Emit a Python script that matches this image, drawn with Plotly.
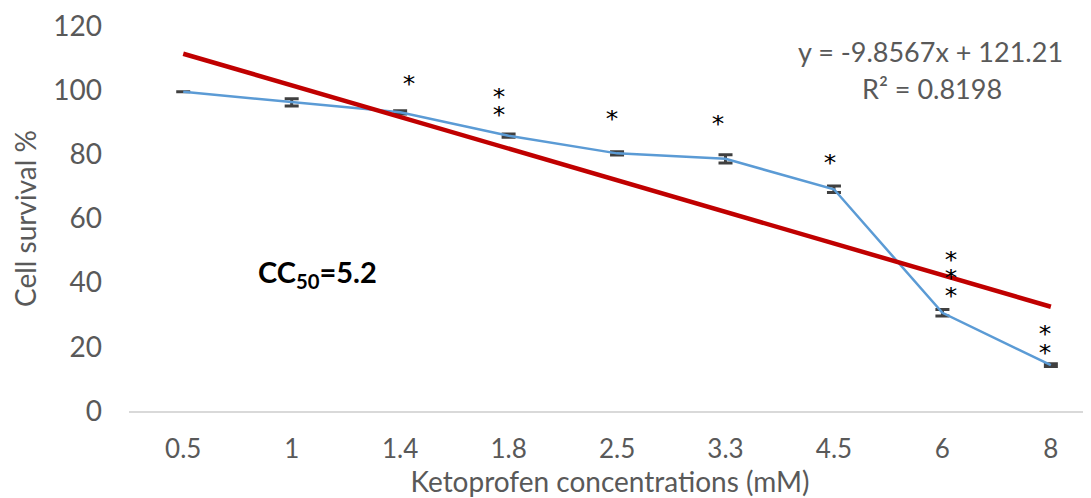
import plotly.graph_objects as go

# ---- data ----
concentrations = ["0.5", "1", "1.4", "1.8", "2.5", "3.3", "4.5", "6", "8"]
survival = [99.5, 96.2, 93.1, 85.8, 80.3, 78.6, 69.1, 30.6, 14.3]
survival_err = [0.0, 1.1, 0.5, 0.5, 0.5, 1.3, 1.0, 1.0, 0.4]
slope = -9.8567
intercept = 121.21
r_squared = 0.8198
stars = ["", "", "*", "**", "*", "*", "*", "***", "**"]
cc50 = 5.2

# trend values from the fitted equation (x = category index 1..n)
trend = [slope * (i + 1) + intercept for i in range(len(concentrations))]

FONT = "Lato, 'Open Sans', sans-serif"
GREY = "#595959"

# page has an 8px body margin: size the figure so it fills the window
W, H = 1083, 490
L, R, T, B = 121, 0, 18, 87
PW, PH = W - L - R, H - T - B


def px(x):  # window pixel -> paper x
    return (x - 8 - L) / PW


def py(y):  # window pixel -> paper y
    return (H - B + 8 - y) / PH


fig = go.Figure()

fig.add_trace(go.Scatter(
    x=concentrations, y=survival, mode="lines",
    line=dict(color="#5b9bd5", width=2.5),
    error_y=dict(type="data", array=survival_err, visible=True,
                 color="#404040", thickness=3, width=7),
    showlegend=False, hoverinfo="x+y"))

fig.add_trace(go.Scatter(
    x=concentrations, y=trend, mode="lines",
    line=dict(color="#c00000", width=4.5),
    showlegend=False, hoverinfo="x+y"))

# significance asterisks (text annotations)
star_layout = {  # category index -> (x offset in categories, list of y positions)
    2: (0.08, [103.8]),
    3: (-0.09, [99.8, 94.1]),
    4: (-0.05, [92.9]),
    5: (-0.07, [91.3]),
    6: (-0.04, [79.2]),
    7: (0.08, [49.0, 43.4, 37.8]),
    8: (-0.05, [25.8, 20.1]),
}
annotations = []
for i, s in enumerate(stars):
    if not s:
        continue
    dx, ys = star_layout[i]
    for y in ys[:len(s)]:
        annotations.append(dict(
            x=i + dx, y=y, xref="x", yref="y", text="*", showarrow=False,
            font=dict(family="DejaVu Sans", size=25, color="#000000"),
            width=14, height=16, valign="middle",
            xanchor="center", yanchor="middle", yshift=-5))

annotations.append(dict(
    xref="paper", yref="paper", x=px(930), y=py(51),
    text=f"y = {slope}x + {intercept}", showarrow=False,
    font=dict(family=FONT, size=27, color=GREY), xanchor="center", yanchor="middle"))
annotations.append(dict(
    xref="paper", yref="paper", x=px(932), y=py(88),
    text=f"R² = {r_squared}", showarrow=False,
    font=dict(family=FONT, size=27, color=GREY), xanchor="center", yanchor="middle"))
annotations.append(dict(
    xref="paper", yref="paper", x=px(256), y=py(273),
    text=f"<b>CC<sub>50</sub>={cc50}</b>", showarrow=False,
    font=dict(family=FONT, size=29, color="#000000"), xanchor="left", yanchor="middle"))

fig.update_layout(
    width=W, height=H,
    margin=dict(l=L, r=R, t=T, b=B),
    paper_bgcolor="white", plot_bgcolor="white",
    font=dict(family=FONT, color=GREY),
    xaxis=dict(type="category", range=[-0.5, 8.37], automargin=False,
               showgrid=False, zeroline=False,
               showline=True, linecolor="#d9d9d9", linewidth=2,
               ticks="", tickfont=dict(size=26, color=GREY),
               ticklabelstandoff=14, ticklabeloverflow="allow",
               title=dict(text="Ketoprofen concentrations (mM)",
                          font=dict(size=28, color=GREY), standoff=8)),
    yaxis=dict(range=[0, 120], dtick=20, showgrid=False, zeroline=False,
               automargin=False,
               showline=False, ticks="", tickfont=dict(size=28, color=GREY),
               ticklabelstandoff=26, ticklabeloverflow="allow",
               title=dict(text="Cell survival %",
                          font=dict(size=28, color=GREY), standoff=10)),
    annotations=annotations,
)

fig.write_html("out.html")
